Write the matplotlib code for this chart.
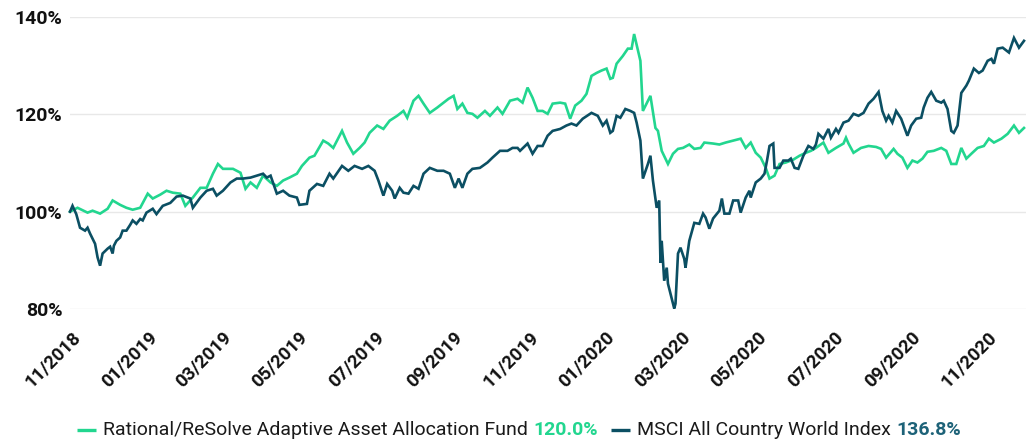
import numpy as np
import pandas as pd
import matplotlib
matplotlib.use("Agg")
import matplotlib.pyplot as plt
import matplotlib.dates as mdates
from matplotlib.transforms import ScaledTranslation
from matplotlib.offsetbox import HPacker, TextArea, DrawingArea, AnchoredOffsetbox
from matplotlib.lines import Line2D

plt.rcParams['font.family'] = ['Roboto', 'DejaVu Sans']

start_date = "2018-10-31"

fund_name = "Rational/ReSolve Adaptive Asset Allocation Fund"
fund_total = "120.0%"
fund_days = [0, 6, 14, 18, 24, 30, 34, 40, 45, 50, 56, 62, 66, 72, 77, 82, 88, 92, 98, 104,
             109, 114, 118, 122, 130, 136, 140, 144, 149, 154, 160, 165, 170, 175, 181, 185, 191, 195, 202, 206,
             210, 217, 221, 226, 231, 235, 239, 245, 250, 255, 261, 266, 269, 274, 278, 282, 287, 293, 298, 302,
             306, 309, 313, 317, 321, 325, 331, 335, 341, 345, 351, 357, 361, 365, 369, 373, 377, 381, 385, 391,
             395, 399, 403, 408, 412, 416, 420, 424, 428, 431, 433, 436, 441, 445, 448, 450, 455, 457, 461, 463,
             467, 469, 472, 477, 481, 485, 489, 494, 498, 503, 506, 513, 518, 523, 529, 535, 539, 543, 547, 551,
             555, 558, 562, 566, 571, 577, 582, 587, 591, 595, 601, 605, 611, 617, 619, 621, 625, 631, 637, 643,
             647, 651, 657, 660, 664, 668, 672, 676, 680, 684, 689, 695, 699, 703, 707, 711, 715, 719, 724, 729,
             733, 737, 743, 748, 753, 757, 761]
fund_values = [100.0, 100.8, 99.8, 100.2, 99.6, 100.6, 102.3, 101.4, 100.8, 100.4, 100.8, 103.7, 102.7, 103.5, 104.3, 103.9, 103.7, 101.2, 102.9, 104.9,
               104.9, 107.8, 109.8, 108.8, 108.8, 108.0, 104.7, 106.0, 104.9, 107.4, 106.0, 105.3, 106.4, 107.0, 107.8, 109.4, 111.1, 111.5, 114.6, 114.0,
               113.1, 116.6, 114.2, 111.9, 113.1, 114.2, 116.2, 117.7, 117.0, 118.7, 119.7, 120.7, 119.3, 122.8, 123.8, 122.2, 120.3, 121.4, 122.4, 123.2,
               123.8, 121.1, 122.2, 120.3, 120.1, 119.3, 120.7, 119.7, 121.4, 120.1, 122.8, 123.2, 122.4, 125.5, 123.4, 120.7, 120.7, 120.1, 122.2, 122.4,
               122.2, 119.1, 121.8, 122.8, 124.2, 127.9, 128.5, 129.0, 129.4, 127.3, 127.5, 130.4, 132.0, 133.5, 133.5, 136.5, 131.0, 120.7, 122.8, 123.8,
               117.2, 116.6, 112.5, 109.8, 111.9, 112.9, 113.1, 113.8, 112.9, 113.1, 114.2, 114.0, 113.8, 114.2, 114.6, 115.0, 113.1, 114.2, 112.1, 111.1,
               109.0, 106.8, 107.4, 109.8, 110.1, 110.7, 111.5, 112.1, 112.5, 113.1, 114.2, 112.1, 113.1, 114.0, 115.2, 114.0, 112.1, 113.1, 113.5, 113.3,
               112.9, 111.1, 112.9, 111.9, 111.1, 109.0, 110.5, 110.1, 110.9, 112.3, 112.5, 113.1, 112.5, 109.8, 109.8, 113.1, 110.9, 111.9, 113.1, 113.5,
               115.0, 114.2, 115.0, 116.0, 117.7, 116.2, 117.2]

index_name = "MSCI All Country World Index"
index_total = "136.8%"
index_days = [0, 2, 5, 8, 12, 14, 16, 20, 22, 24, 26, 30, 32, 34, 35, 37, 40, 42, 45, 48,
              50, 53, 56, 58, 61, 66, 69, 74, 80, 85, 90, 96, 98, 104, 109, 114, 117, 122, 128, 133,
              138, 144, 149, 154, 157, 160, 165, 170, 175, 181, 183, 189, 191, 197, 202, 207, 210, 217, 222, 227,
              233, 238, 243, 246, 250, 253, 257, 259, 263, 266, 270, 274, 278, 282, 287, 293, 298, 303, 307, 310,
              313, 317, 321, 327, 333, 337, 343, 349, 353, 357, 359, 365, 369, 373, 377, 381, 385, 391, 396, 400,
              404, 409, 416, 421, 425, 428, 431, 433, 436, 439, 443, 447, 450, 452, 455, 457, 461, 463, 465, 468,
              470, 471, 472, 474, 476, 477, 482, 483, 485, 487, 490, 491, 494, 498, 502, 505, 507, 510, 513, 518,
              520, 522, 526, 529, 533, 535, 539, 542, 543, 547, 551, 554, 556, 558, 561, 562, 566, 569, 573, 575,
              578, 581, 585, 589, 593, 595, 597, 601, 605, 607, 611, 613, 617, 621, 625, 629, 633, 637, 641, 645,
              648, 651, 653, 656, 659, 663, 665, 668, 671, 675, 679, 681, 684, 687, 691, 695, 697, 700, 703, 705,
              708, 711, 715, 717, 721, 725, 728, 732, 735, 737, 740, 744, 749, 753, 757, 761]
index_values = [100.0, 101.2, 99.5, 96.7, 96.1, 96.7, 95.5, 93.4, 90.6, 88.9, 91.4, 92.4, 92.8, 91.4, 93.0, 94.0, 94.7, 96.1, 96.1, 97.3,
                98.2, 97.5, 98.5, 98.2, 99.8, 100.6, 99.5, 101.2, 101.8, 103.1, 103.3, 102.7, 100.8, 102.9, 104.3, 104.7, 103.3, 104.3, 106.0, 106.8,
                106.8, 107.0, 107.4, 107.8, 107.0, 107.4, 103.7, 104.3, 103.3, 102.9, 101.4, 101.6, 104.3, 105.7, 105.3, 107.8, 106.8, 109.4, 108.4, 109.4,
                108.8, 109.4, 108.4, 106.4, 103.3, 105.7, 104.3, 102.7, 104.9, 103.9, 103.7, 105.3, 104.7, 107.8, 109.0, 108.4, 108.4, 107.8, 104.9, 106.8,
                104.9, 107.8, 108.8, 109.0, 110.1, 111.1, 112.5, 112.5, 113.1, 113.1, 112.5, 114.0, 111.9, 113.5, 113.5, 115.6, 116.6, 117.0, 117.7, 118.1,
                117.7, 119.1, 120.3, 119.7, 117.7, 118.7, 116.2, 116.6, 119.7, 119.3, 121.1, 120.7, 120.3, 118.3, 114.6, 106.8, 109.8, 111.5, 106.4, 100.8,
                102.3, 89.5, 94.0, 85.8, 88.5, 85.2, 80.1, 81.1, 91.4, 92.6, 90.3, 88.5, 94.0, 97.7, 97.5, 99.6, 98.8, 96.5, 98.6, 100.2,
                102.7, 99.6, 99.6, 102.3, 102.3, 99.8, 102.9, 104.3, 102.9, 106.0, 106.8, 107.8, 110.5, 113.5, 114.0, 109.0, 109.0, 110.5, 110.5, 110.9,
                109.0, 108.8, 111.5, 113.5, 112.9, 113.8, 116.0, 115.0, 117.0, 115.2, 117.0, 116.2, 118.3, 118.7, 120.1, 119.7, 120.3, 122.2, 123.2, 124.6,
                120.7, 118.7, 119.7, 118.3, 120.7, 119.1, 117.7, 115.6, 117.7, 119.1, 119.3, 121.4, 123.4, 124.6, 122.8, 122.4, 122.8, 121.1, 116.6, 116.2,
                117.7, 124.4, 125.9, 126.9, 129.4, 128.5, 129.0, 131.0, 131.4, 130.4, 133.5, 133.7, 132.7, 135.7, 133.7, 135.1]

y_ticks = [80, 100, 120, 140]

GREEN = "#22D68F"
NAVY = "#0B4F63"
NAVY_TXT = "#1D6278"

t0 = pd.Timestamp(start_date)
fund_dates = t0 + pd.to_timedelta(fund_days, unit="D")
index_dates = t0 + pd.to_timedelta(index_days, unit="D")

fig = plt.figure(figsize=(10.26, 4.41), dpi=100)
ax = fig.add_axes([70 / 1026, (441 - 309) / 441, (1026 - 70) / 1026, (309 - 17) / 441])

ax.plot(fund_dates, fund_values, color=GREEN, lw=1.9, clip_on=False, zorder=3, solid_joinstyle="miter")
ax.plot(index_dates, index_values, color=NAVY, lw=1.9, clip_on=False, zorder=4, solid_joinstyle="miter")

ax.set_ylim(80, 140)
ax.set_xlim(t0, t0 + pd.Timedelta(days=762.6))
ax.set_yticks(y_ticks)
ax.set_yticklabels([f"{v}%" for v in y_ticks])
ax.grid(axis="y", color="#E8E8E8", lw=1.0, zorder=0)
ax.grid(axis="x", visible=False)
for s in ax.spines.values():
    s.set_visible(False)

ax.xaxis.set_major_locator(mdates.MonthLocator(bymonth=[1, 3, 5, 7, 9, 11]))
ax.xaxis.set_major_formatter(mdates.DateFormatter("%m/%Y"))
ax.tick_params(axis="both", length=0)
ax.tick_params(axis="y", pad=5.5, labelsize=14, labelcolor="#111111")
ax.tick_params(axis="x", pad=13.5, labelsize=13.3, labelcolor="#111111")
for lab in ax.get_yticklabels():
    lab.set_fontweight("bold")
offset = ScaledTranslation(13 / 100, 0, fig.dpi_scale_trans)
for lab in ax.get_xticklabels():
    lab.set_fontweight("bold")
    lab.set_rotation(45)
    lab.set_ha("right")
    lab.set_va("top")
    lab.set_transform(lab.get_transform() + offset)


def dash(color):
    da = DrawingArea(14, 10, 0, 0)
    da.add_artist(Line2D([0, 14], [5, 5], color=color, lw=2.4, solid_capstyle="butt"))
    return da


LEG_FS = 14
item1 = HPacker(children=[dash(GREEN),
                          HPacker(children=[TextArea(fund_name, textprops=dict(fontsize=LEG_FS, color="#1A1A1A")),
                                            TextArea(fund_total, textprops=dict(fontsize=LEG_FS, color=GREEN, fontweight="bold"))],
                                  sep=4, align="baseline", pad=0)],
                sep=5, align="center", pad=0)
item2 = HPacker(children=[dash(NAVY),
                          HPacker(children=[TextArea(index_name, textprops=dict(fontsize=LEG_FS, color="#1A1A1A")),
                                            TextArea(index_total, textprops=dict(fontsize=LEG_FS, color=NAVY_TXT, fontweight="bold"))],
                                  sep=4, align="baseline", pad=0)],
                sep=5, align="center", pad=0)
legend_box = HPacker(children=[item1, item2], sep=9, align="center", pad=0)
anch = AnchoredOffsetbox(loc="center", child=legend_box, pad=0, borderpad=0, frameon=False,
                         bbox_to_anchor=(519 / 1026, 1 - 430 / 441), bbox_transform=fig.transFigure)
fig.add_artist(anch)

fig.savefig("out.png", dpi=100)
